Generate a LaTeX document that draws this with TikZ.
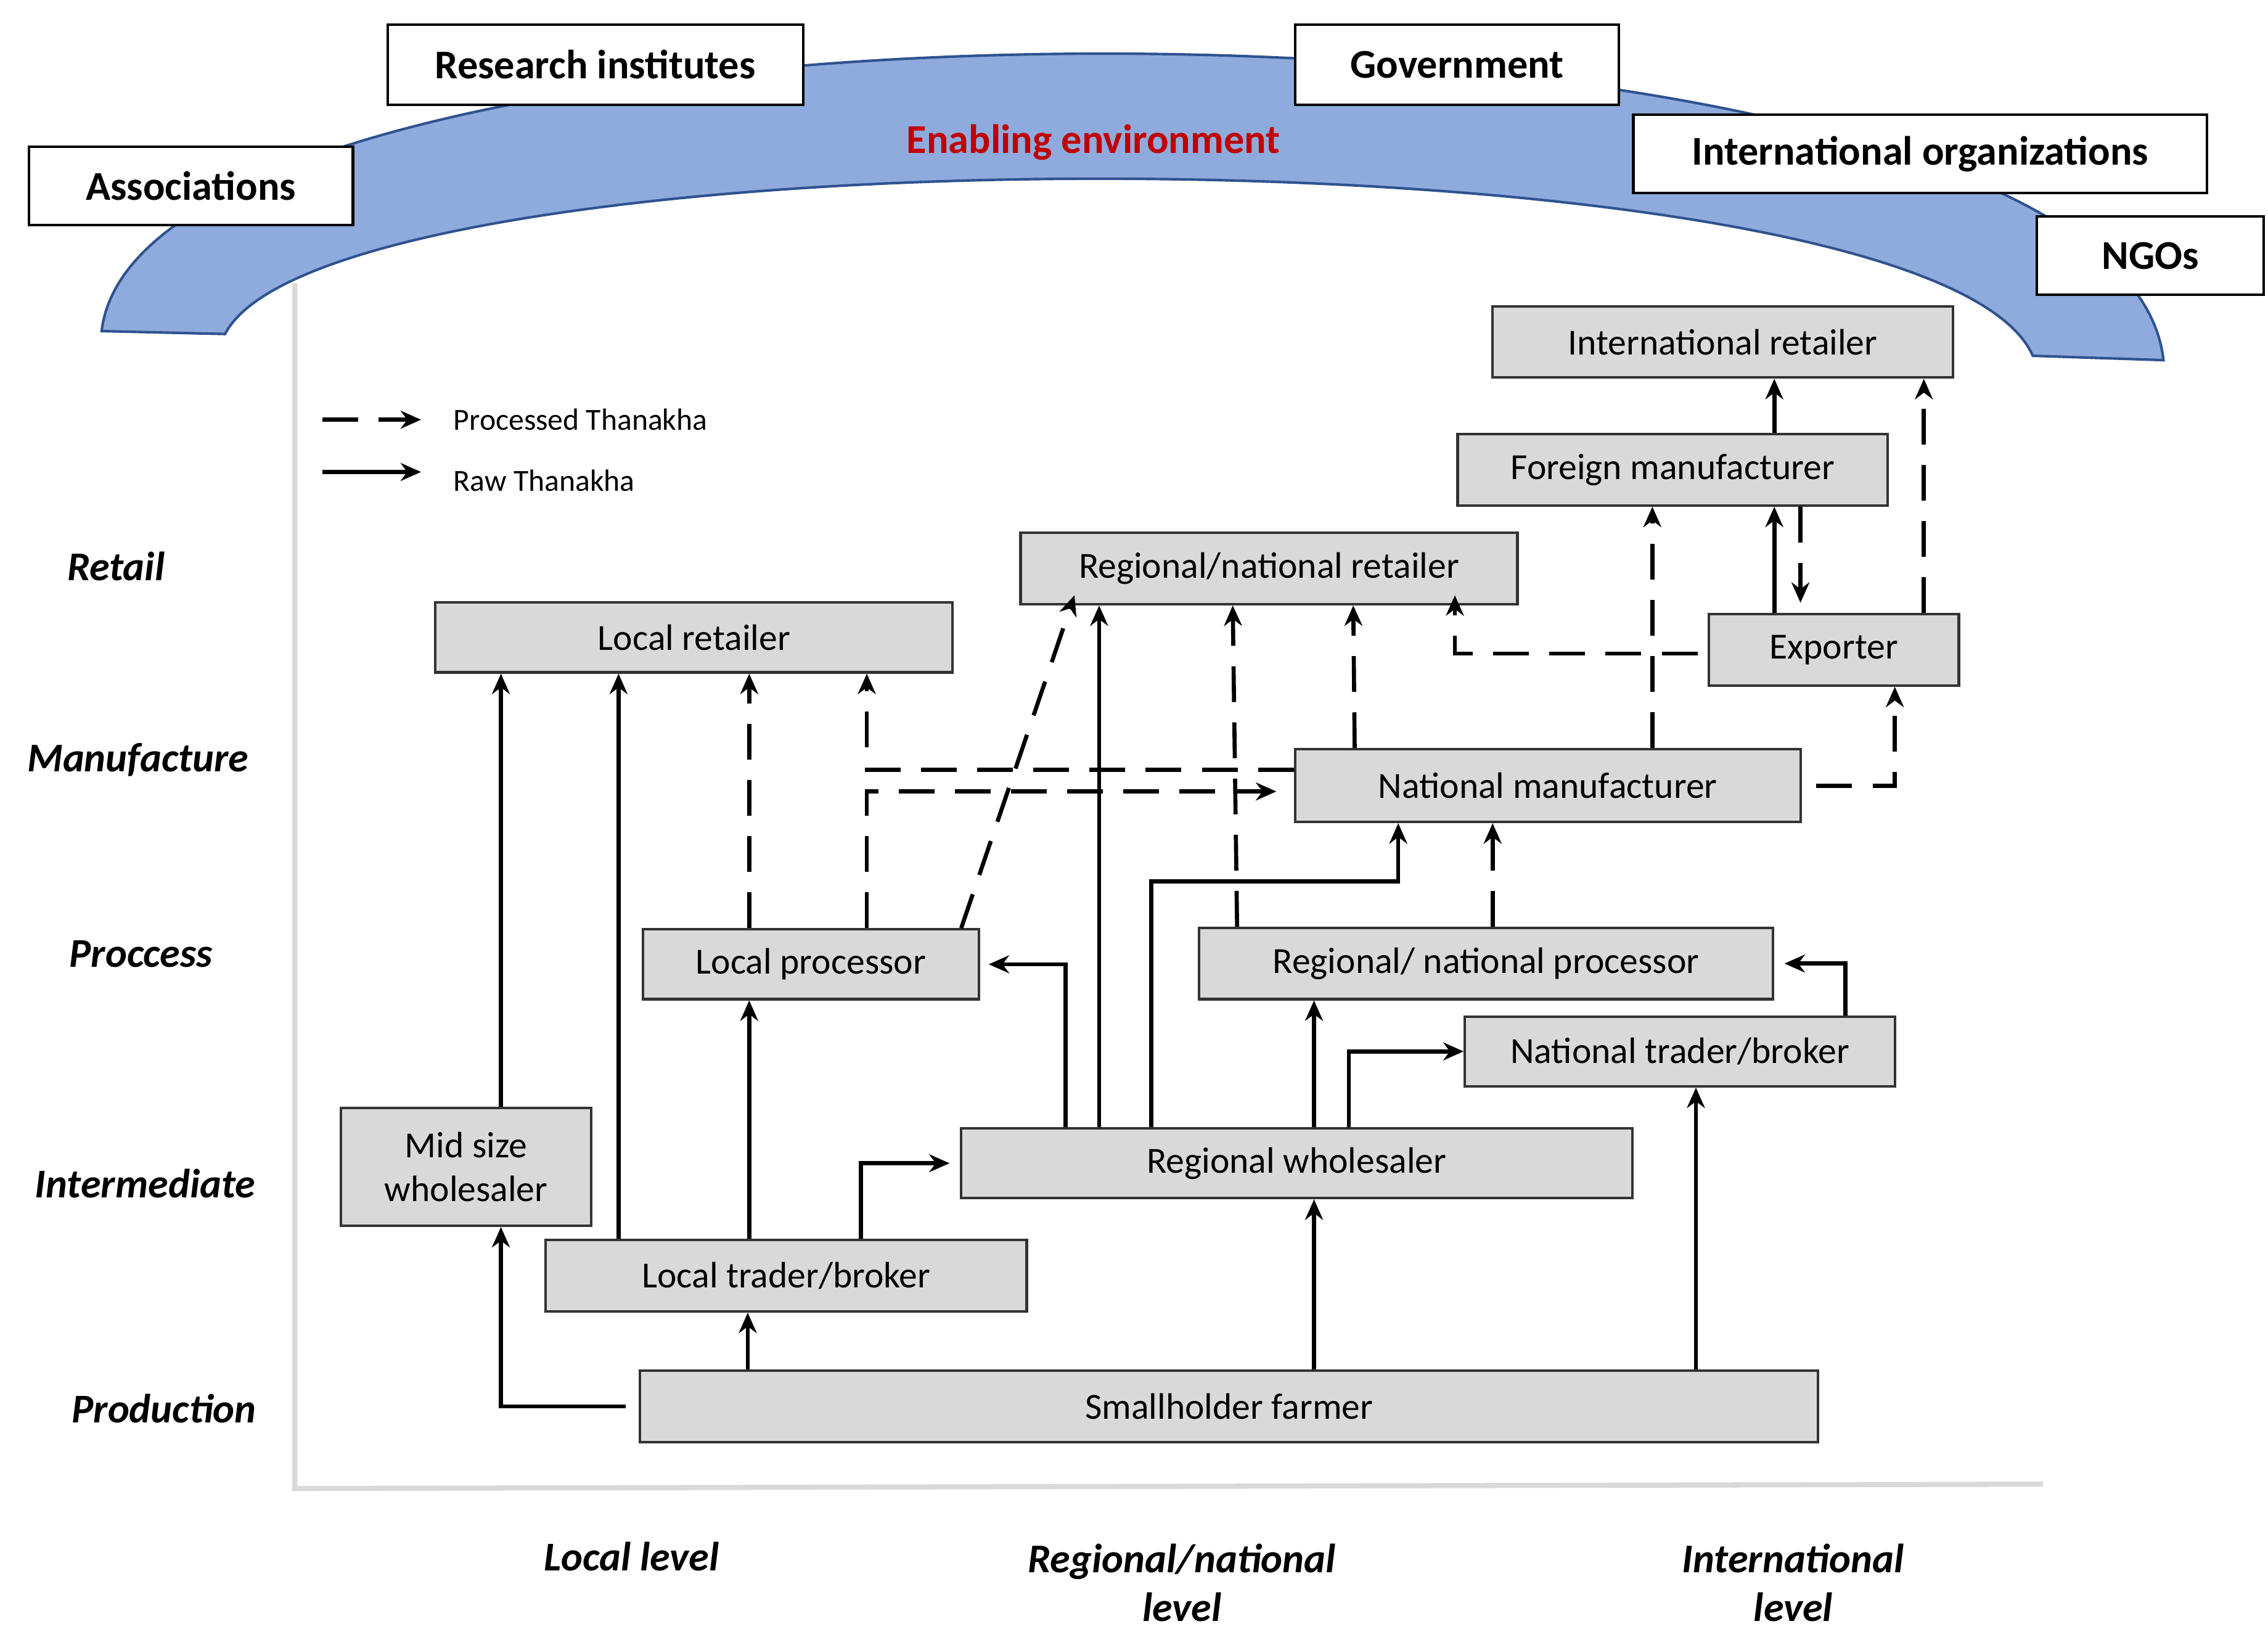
\documentclass[tikz,border=0pt]{standalone}
\usepackage{fontspec}
\setmainfont{Carlito}
\usetikzlibrary{arrows.meta}
\begin{document}
\begin{tikzpicture}[x=0.01cm,y=-0.01cm,
 box/.style={draw=black!80,fill=black!15,line width=0.5pt,inner sep=0pt,font=\fontsize{7.2}{8.6}\selectfont,align=center},
 head/.style={draw=black,fill=white,line width=0.5pt,inner sep=0pt,font=\bfseries\fontsize{8}{9}\selectfont},
 lab/.style={font=\bfseries\itshape\fontsize{8}{9.5}\selectfont,align=center},
 raw/.style={line width=0.8pt,-{Stealth[length=4pt,width=3.5pt]}},
 proc/.style={raw,dash pattern=on 7pt off 4pt}]
\useasboundingbox (0,0) rectangle (1562,1127);
% arc
\draw[fill={rgb,255:red,143;green,170;blue,220},draw={rgb,255:red,47;green,82;blue,143},line width=0.5pt]
 (70,228) .. controls (100,-30) and (1460,-30) .. (1490,248) -- (1400,245)
 .. controls (1330,85) and (230,85) .. (155,230) -- cycle;
\node[font=\bfseries\fontsize{8}{9}\selectfont,text={rgb,255:red,192;green,0;blue,0}] (ee) at (753,98) {Enabling environment};
\node[head,minimum width=2.86cm,minimum height=0.55cm] (ri) at (410,44.5) {Research institutes};
\node[head,minimum width=2.23cm,minimum height=0.55cm] (gov) at (1003.5,44.5) {Government};
\node[head,minimum width=2.23cm,minimum height=0.54cm] (as) at (131.5,128) {Associations};
\node[head,minimum width=3.95cm,minimum height=0.54cm] (io) at (1322.5,106) {International organizations};
\node[head,minimum width=1.56cm,minimum height=0.54cm] (ngo) at (1481,176) {NGOs};
% axes
\draw[black!15,line width=1pt] (203,195) -- (203,1025) -- (1407,1022);
% legend
\coordinate (l1a) at (222,289); \coordinate (l1b) at (290,289);
\coordinate (l2a) at (222,325); \coordinate (l2b) at (290,325);
\draw[proc] (l1a) -- (l1b);
\draw[raw] (l2a) -- (l2b);
\node[anchor=west,font=\fontsize{6}{7}\selectfont] (lt1) at (300,289) {Processed Thanakha};
\node[anchor=west,font=\fontsize{6}{7}\selectfont] (lt2) at (300,331) {Raw Thanakha};
% row labels
\node[lab] (r1) at (80,390) {Retail};
\node[lab] (r2) at (95,523) {Manufacture};
\node[lab] (r3) at (97,657) {Proccess};
\node[lab] (r4) at (100,815) {Intermediate};
\node[lab] (r5) at (113,970) {Production};
\node[lab] (c1) at (435,1072) {Local level};
\node[lab] (c2) at (814,1090) {Regional/national\\level};
\node[lab] (c3) at (1235,1090) {International\\level};
% boxes
\node[box,minimum width=3.17cm,minimum height=0.49cm] (ir) at (1186.5,235.5) {International retailer};
\node[box,minimum width=2.96cm,minimum height=0.49cm] (fm) at (1152,323.5) {Foreign manufacturer};
\node[box,minimum width=3.42cm,minimum height=0.49cm] (rnr) at (874,391.5) {Regional/national retailer};
\node[box,minimum width=3.56cm,minimum height=0.48cm] (lr) at (478,439) {Local retailer};
\node[box,minimum width=1.72cm,minimum height=0.49cm] (ex) at (1263,447.5) {Exporter};
\node[box,minimum width=3.48cm,minimum height=0.50cm] (nm) at (1066,541) {National manufacturer};
\node[box,minimum width=2.31cm,minimum height=0.48cm] (lp) at (558.5,664) {Local processor};
\node[box,minimum width=3.95cm,minimum height=0.49cm] (rnp) at (1023.5,663.5) {Regional/ national processor};
\node[box,minimum width=2.96cm,minimum height=0.48cm] (nt) at (1157,724) {National trader/broker};
\node[box,minimum width=1.72cm,minimum height=0.81cm] (mw) at (321,803.5) {Mid size\\wholesaler};
\node[box,minimum width=4.62cm,minimum height=0.48cm] (rw) at (893,801) {Regional wholesaler};
\node[box,minimum width=3.31cm,minimum height=0.49cm] (lt) at (541.5,878.5) {Local trader/broker};
\node[box,minimum width=8.11cm,minimum height=0.49cm] (sf) at (846.5,968.5) {Smallholder farmer};
% raw
\draw[raw] ([xshift=-0.09cm]sf.west) -| (mw.south -| 345,0);
\draw[raw] (sf.north -| 515,0) -- (lt.south -| 515,0);
\draw[raw] (sf.north -| 905,0) -- (rw.south -| 905,0);
\draw[raw] (sf.north -| 1168,0) -- (nt.south -| 1168,0);
\draw[raw] (mw.north -| 345,0) -- (lr.south -| 345,0);
\draw[raw] (lt.north -| 426,0) -- (lr.south -| 426,0);
\draw[raw] (lt.north -| 516,0) -- (lp.south -| 516,0);
\draw[raw] (lt.north -| 593,0) |- ([xshift=-0.07cm]rw.west);
\draw[raw] (rw.north -| 734,0) |- ([xshift=0.06cm]lp.east);
\draw[raw] (rw.north -| 757,0) -- (rnr.south -| 757,0);
\draw[raw] (rw.north -| 793,0) -- (793,607) -| (nm.south -| 963,0);
\draw[raw] (rw.north -| 905,0) -- (rnp.south -| 905,0);
\draw[raw] (rw.north -| 929,0) |- (nt.west);
\draw[raw] (nt.north -| 1271,0) |- ([xshift=0.07cm]rnp.east);
\draw[raw] (fm.north -| 1222,0) -- (ir.south -| 1222,0);
\draw[raw] (ex.north -| 1222,0) -- (fm.south -| 1222,0);
% processed
\draw[proc] (fm.south -| 1240,0) -- ([yshift=0.07cm]ex.north -| 1240,0);
\draw[proc] (rnp.north -| 1028,0) -- (nm.south -| 1028,0);
\draw[proc] (lp.north -| 516,0) -- (lr.south -| 516,0);
\draw[proc] (nm.west |- 0,530) -| (lr.south -| 597,0);
\draw[proc] (lp.north -| 597,0) |- ([xshift=-0.12cm]nm.west |- 0,545);
\draw[proc] (lp.north -| 662,0) -- ([yshift=0.07cm]rnr.south -| 740,0);
\draw[proc] (rnp.north -| 852,0) -- (rnr.south -| 849,0);
\draw[proc] (nm.north -| 933,0) -- (rnr.south -| 932,0);
\draw[proc] ([xshift=-0.07cm]ex.west |- 0,450) -| ([yshift=0.07cm]rnr.south -| 1002,0);
\draw[proc] (nm.north -| 1138,0) -- (fm.south -| 1138,0);
\draw[proc] ([xshift=0.1cm]nm.east) -| (ex.south -| 1305,0);
\draw[proc] (ex.north -| 1325,0) -- (ir.south -| 1325,0);
\end{tikzpicture}
\end{document}
